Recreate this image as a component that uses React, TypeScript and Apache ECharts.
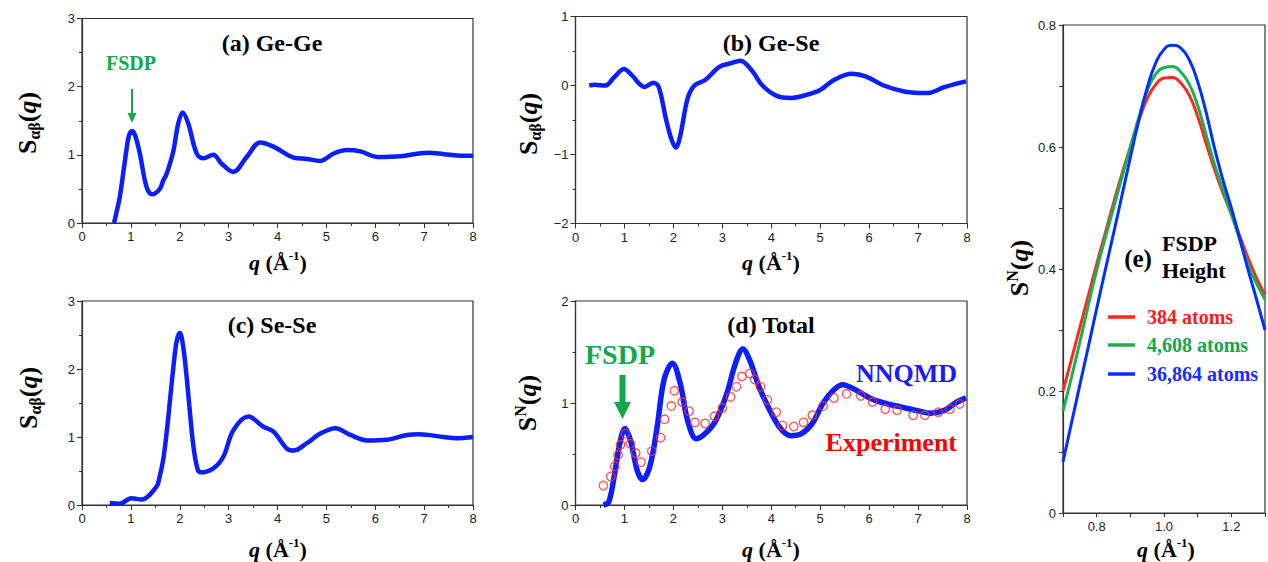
import React, { useEffect, useRef } from "react";
import * as echarts from "echarts";

// ---------------- data ----------------
// (a) Ge-Ge partial structure factor [q, S]
const geGe: [number, number][] = [
  [0.656, 0.0], [0.70, 0.14], [0.773, 0.38], [0.909, 1.07], [0.96, 1.28], [1.026, 1.35], [1.09, 1.28],
  [1.183, 1.02], [1.32, 0.53], [1.436, 0.42], [1.593, 0.50], [1.66, 0.62], [1.73, 0.72], [1.867, 1.05],
  [1.969, 1.46], [2.058, 1.62], [2.174, 1.46], [2.345, 1.02], [2.482, 0.95], [2.687, 1.0],
  [2.858, 0.87], [3.097, 0.75], [3.371, 0.97], [3.644, 1.18], [3.918, 1.12], [4.328, 0.96],
  [4.602, 0.94], [4.875, 0.91], [5.149, 1.02], [5.422, 1.07], [5.696, 1.05], [6.038, 0.97],
  [6.516, 0.98], [6.892, 1.02], [7.1, 1.03], [7.4, 1.01], [7.8, 0.985], [8.0, 0.985],
];

// (b) Ge-Se
const geSe: [number, number][] = [
  [0.28, 0.0], [0.39, 0.01], [0.61, 0.0], [0.79, 0.12], [0.99, 0.24], [1.15, 0.15], [1.41, -0.02],
  [1.59, 0.04], [1.70, -0.02], [1.85, -0.49], [1.96, -0.78], [2.05, -0.9], [2.14, -0.73],
  [2.29, -0.19], [2.43, 0.0], [2.65, 0.08], [2.94, 0.27], [3.16, 0.32], [3.37, 0.36], [3.60, 0.22],
  [3.82, 0.0], [4.11, -0.15], [4.40, -0.18], [4.70, -0.14], [4.99, -0.07], [5.28, 0.08],
  [5.65, 0.17], [5.94, 0.13], [6.30, 0.0], [6.74, -0.09], [7.18, -0.11], [7.55, -0.02], [7.98, 0.06],
];

// (c) Se-Se
const seSe: [number, number][] = [
  [0.568, 0.03], [0.773, 0.02], [1.012, 0.10], [1.217, 0.08], [1.525, 0.27], [1.59, 0.42],
  [1.66, 0.66], [1.73, 1.05], [1.80, 1.54], [1.87, 2.03], [1.94, 2.42], [2.003, 2.53], [2.07, 2.33],
  [2.14, 1.89], [2.21, 1.35], [2.28, 0.86], [2.36, 0.54], [2.43, 0.48], [2.687, 0.54], [2.892, 0.71],
  [3.097, 1.10], [3.405, 1.30], [3.713, 1.15], [3.918, 1.08], [4.191, 0.83], [4.328, 0.80],
  [4.602, 0.91], [4.875, 1.05], [5.183, 1.13], [5.491, 1.03], [5.832, 0.95], [6.243, 0.96],
  [6.653, 1.03], [6.892, 1.04], [7.4, 1.0], [7.65, 0.98], [8.0, 1.0],
];

// (d) Total, NNQMD
const totalNN: [number, number][] = [
  [0.57, 0.0], [0.68, 0.03], [0.79, 0.28], [0.90, 0.59], [1.01, 0.75], [1.12, 0.64], [1.26, 0.34],
  [1.37, 0.25], [1.52, 0.38], [1.67, 0.77], [1.81, 1.23], [1.98, 1.39], [2.14, 1.19], [2.29, 0.83],
  [2.47, 0.65], [2.65, 0.70], [2.87, 0.83], [3.09, 1.09], [3.27, 1.39], [3.42, 1.53], [3.56, 1.42],
  [3.75, 1.16], [3.97, 0.93], [4.19, 0.75], [4.40, 0.68], [4.62, 0.70], [4.84, 0.80], [5.06, 1.0],
  [5.28, 1.13], [5.46, 1.18], [5.72, 1.13], [6.01, 1.05], [6.30, 1.0], [6.67, 0.96], [7.03, 0.92],
  [7.25, 0.90], [7.55, 0.93], [7.76, 1.0], [7.98, 1.05],
];

// (d) Total, experiment
const totalExp: [number, number][] = [
  [0.57, 0.19], [0.72, 0.28], [0.80, 0.38], [0.87, 0.49], [0.92, 0.59], [1.02, 0.70], [1.12, 0.60],
  [1.23, 0.51], [1.34, 0.42], [1.56, 0.53], [1.74, 0.66], [1.82, 0.84], [1.96, 0.97], [2.02, 1.12],
  [2.18, 1.01], [2.32, 0.92], [2.44, 0.81], [2.65, 0.80], [2.84, 0.87], [3.00, 0.95], [3.17, 1.06],
  [3.29, 1.16], [3.40, 1.26], [3.56, 1.29], [3.66, 1.23], [3.78, 1.16], [3.92, 1.03], [4.10, 0.91],
  [4.23, 0.78], [4.46, 0.77], [4.66, 0.81], [4.84, 0.88], [5.06, 0.97], [5.28, 1.05], [5.54, 1.09],
  [5.83, 1.07], [6.07, 1.01], [6.33, 0.94], [6.57, 0.93], [6.90, 0.88], [7.14, 0.88], [7.41, 0.91],
  [7.65, 0.94], [7.85, 0.99],
];

// (e) FSDP height, three system sizes
const eQ = [0.70, 0.725, 0.75, 0.775, 0.80, 0.825, 0.85, 0.875, 0.90, 0.925, 0.95, 0.975, 1.0,
  1.025, 1.05, 1.075, 1.10, 1.125, 1.15, 1.175, 1.20, 1.225, 1.25, 1.275, 1.30];
const atoms384 = [0.200, 0.252, 0.304, 0.356, 0.408, 0.458, 0.508, 0.556, 0.600, 0.643, 0.679, 0.702,
  0.713, 0.714, 0.705, 0.685, 0.650, 0.606, 0.563, 0.525, 0.490, 0.454, 0.418, 0.385, 0.358];
const atoms4608 = [0.167, 0.222, 0.280, 0.340, 0.398, 0.450, 0.500, 0.550, 0.600, 0.648, 0.692, 0.719,
  0.730, 0.732, 0.723, 0.703, 0.668, 0.620, 0.572, 0.530, 0.490, 0.448, 0.407, 0.376, 0.350];
const atoms36864 = [0.084, 0.147, 0.210, 0.272, 0.335, 0.397, 0.458, 0.520, 0.583, 0.643, 0.697, 0.737,
  0.760, 0.767, 0.762, 0.743, 0.707, 0.657, 0.598, 0.546, 0.500, 0.450, 0.398, 0.350, 0.300];

const legendLabels = ["384 atoms", "4,608 atoms", "36,864 atoms"];
const panelTitles = ["(a) Ge-Ge", "(b) Ge-Se", "(c) Se-Se", "(d) Total"];

// ---------------- styles ----------------
const SERIF = '"Liberation Serif", "Times New Roman", serif';
const SANS = '"Liberation Sans", Arial, Helvetica, sans-serif';
const BLUE = "#0a1eff";
const GREEN = "#12a84c";
const RED = "#ff2a1e";
const AXIS = "#333";

const pairs = (xs: number[], ys: number[]) => xs.map((x, i) => [x, ys[i]]);

function xAxisOf(gridIndex: number, min: number, max: number, interval: number, extra: any = {}) {
  return {
    type: "value", gridIndex, min, max, interval,
    axisLine: { show: true, onZero: false, lineStyle: { color: AXIS, width: 1.2 } },
    axisTick: { show: true, length: 5, lineStyle: { color: AXIS, width: 1 } },
    minorTick: { show: true, splitNumber: 2, length: 3, lineStyle: { color: AXIS, width: 1 } },
    splitLine: { show: false },
    minorSplitLine: { show: false },
    axisLabel: { fontFamily: SANS, fontSize: 13, color: "#222", margin: 7 },
    ...extra,
  };
}
function yAxisOf(gridIndex: number, min: number, max: number, interval: number, extra: any = {}) {
  return {
    type: "value", gridIndex, min, max, interval,
    axisLine: { show: true, onZero: false, lineStyle: { color: AXIS, width: 1.2 } },
    axisTick: { show: true, length: 5, lineStyle: { color: AXIS, width: 1 } },
    minorTick: { show: true, splitNumber: 2, length: 3, lineStyle: { color: AXIS, width: 1 } },
    splitLine: { show: false },
    minorSplitLine: { show: false },
    axisLabel: {
      fontFamily: SANS, fontSize: 13, color: "#222", margin: 7,
      formatter: (v: number) => (v < 0 ? "\u2212" + Math.abs(v) : String(v)),
    },
    ...extra,
  };
}

const nameRich = {
  s: { fontFamily: SERIF, fontWeight: "bold", fontSize: 26, lineHeight: 30, color: "#000" },
  q: { fontFamily: SERIF, fontWeight: "bold", fontStyle: "italic", fontSize: 26, lineHeight: 30, color: "#000" },
  sub: { fontFamily: SERIF, fontWeight: "bold", fontSize: 16, lineHeight: 16, verticalAlign: "bottom", color: "#000" },
  sup: { fontFamily: SERIF, fontWeight: "bold", fontSize: 16, lineHeight: 16, verticalAlign: "top", color: "#000" },
};
const xRich = {
  t: { fontFamily: SERIF, fontWeight: "bold", fontSize: 22, lineHeight: 26, color: "#000" },
  q: { fontFamily: SERIF, fontWeight: "bold", fontStyle: "italic", fontSize: 22, lineHeight: 26, color: "#000" },
  sup: { fontFamily: SERIF, fontWeight: "bold", fontSize: 13, lineHeight: 14, verticalAlign: "top", color: "#000" },
};

function yName(x: number, y: number, kind: "ab" | "N") {
  const text = kind === "ab" ? "{s|S}{sub|αβ}{s|(}{q|q}{s|)}" : "{s|S}{sup|N}{s|(}{q|q}{s|)}";
  return {
    type: "text", x, y, rotation: Math.PI / 2,
    style: { text, rich: nameRich, align: "center", verticalAlign: "middle", fill: "#000" },
  };
}
function xName(x: number, y: number) {
  return {
    type: "text", x, y,
    style: { text: "{q|q}{t| (Å}{sup|-1}{t|)}", rich: xRich, align: "center", verticalAlign: "middle", fill: "#000" },
  };
}
function label(x: number, y: number, text: string, size: number, fill: string, align = "center") {
  return {
    type: "text", x, y,
    style: { text, fontFamily: SERIF, fontWeight: "bold", fontSize: size, fill, align, verticalAlign: "middle" },
  };
}

export default function App() {
  const ref = useRef<HTMLDivElement>(null);
  useEffect(() => {
    if (!ref.current) return;
    const chart = echarts.init(ref.current, null, { renderer: "svg" });
    const gridBase = { show: true, borderColor: AXIS, borderWidth: 1.2, backgroundColor: "transparent", containLabel: false };
    const eLabelX = (v: number) => {
      const s = v.toFixed(1);
      return ["0.8", "1.0", "1.2"].includes(s) ? s : "";
    };
    const eLabelY = (v: number) => {
      const r = Math.round(v * 10);
      if (r % 2 !== 0) return "";
      return r === 0 ? "0" : (r / 10).toFixed(1);
    };
    const option: any = {
      animation: false,
      backgroundColor: "#fff",
      grid: [
        { ...gridBase, left: 82, top: 18.5, width: 391, height: 204.5 },
        { ...gridBase, left: 575.5, top: 16.5, width: 391.5, height: 207 },
        { ...gridBase, left: 82, top: 301, width: 391, height: 204 },
        { ...gridBase, left: 575.5, top: 301, width: 391.5, height: 204 },
        { ...gridBase, left: 1063, top: 25, width: 203, height: 488 },
      ],
      xAxis: [
        xAxisOf(0, 0, 8, 1),
        xAxisOf(1, 0, 8, 1),
        xAxisOf(2, 0, 8, 1),
        xAxisOf(3, 0, 8, 1),
        xAxisOf(4, 0.7, 1.3, 0.1, {
          minorTick: { show: false },
          axisTick: { show: true, length: 4, lineStyle: { color: AXIS } },
          axisLabel: { fontFamily: SANS, fontSize: 13, color: "#222", margin: 7, formatter: eLabelX, showMinLabel: true, showMaxLabel: true },
        }),
      ],
      yAxis: [
        yAxisOf(0, 0, 3, 1),
        yAxisOf(1, -2, 1, 1),
        yAxisOf(2, 0, 3, 1),
        yAxisOf(3, 0, 2, 1),
        yAxisOf(4, 0, 0.8, 0.1, {
          minorTick: { show: false },
          axisTick: { show: true, length: 4, lineStyle: { color: AXIS } },
          axisLabel: { fontFamily: SANS, fontSize: 13, color: "#222", margin: 7, formatter: eLabelY },
        }),
      ],
      series: [
        { type: "line", xAxisIndex: 0, yAxisIndex: 0, data: geGe, showSymbol: false, smooth: 0.35, lineStyle: { color: BLUE, width: 4.5 } },
        { type: "line", xAxisIndex: 1, yAxisIndex: 1, data: geSe, showSymbol: false, smooth: 0.35, lineStyle: { color: BLUE, width: 4.5 } },
        { type: "line", xAxisIndex: 2, yAxisIndex: 2, data: seSe, showSymbol: false, smooth: 0.35, lineStyle: { color: BLUE, width: 4.5 } },
        { type: "line", name: "NNQMD", xAxisIndex: 3, yAxisIndex: 3, data: totalNN, showSymbol: false, smooth: 0.35, lineStyle: { color: BLUE, width: 5.5 } },
        {
          type: "scatter", name: "Experiment", xAxisIndex: 3, yAxisIndex: 3, data: totalExp, symbol: "circle", symbolSize: 8.5, z: 5,
          itemStyle: { color: "rgba(255,255,255,0)", borderColor: "#ff3030", borderWidth: 1.4 },
        },
        { type: "line", name: legendLabels[0], xAxisIndex: 4, yAxisIndex: 4, data: pairs(eQ, atoms384), showSymbol: false, smooth: 0.5, lineStyle: { color: RED, width: 3 } },
        { type: "line", name: legendLabels[1], xAxisIndex: 4, yAxisIndex: 4, data: pairs(eQ, atoms4608), showSymbol: false, smooth: 0.5, lineStyle: { color: "#1bb150", width: 3 } },
        { type: "line", name: legendLabels[2], xAxisIndex: 4, yAxisIndex: 4, data: pairs(eQ, atoms36864), showSymbol: false, smooth: 0.5, lineStyle: { color: "#0030ff", width: 3 } },
      ],
      graphic: [
        label(272, 43, panelTitles[0], 24, "#000"),
        label(771, 43, panelTitles[1], 24, "#000"),
        label(272, 325, panelTitles[2], 24, "#000"),
        label(771, 325, panelTitles[3], 24, "#000"),
        yName(27, 123, "ab"),
        yName(528, 124, "ab"),
        yName(28, 398, "ab"),
        yName(527, 403, "N"),
        yName(1019, 268, "N"),
        xName(278, 262),
        xName(771, 262),
        xName(278, 549),
        xName(771, 549),
        xName(1166, 549),
        // FSDP (a)
        label(131, 63, "FSDP", 20, GREEN),
        { type: "line", shape: { x1: 132, y1: 89, x2: 132, y2: 115 }, style: { stroke: GREEN, lineWidth: 2 } },
        { type: "polygon", shape: { points: [[127.5, 113], [136.5, 113], [132, 123]] }, style: { fill: GREEN } },
        // FSDP (d)
        label(620, 354, "FSDP", 28, GREEN),
        { type: "rect", shape: { x: 619.5, y: 375, width: 6, height: 29 }, style: { fill: GREEN } },
        { type: "polygon", shape: { points: [[614, 402], [631, 402], [622.5, 419]] }, style: { fill: GREEN } },
        label(957, 373, "NNQMD", 26, "#1a1aff", "right"),
        label(957, 442, "Experiment", 26, "#ff0000", "right"),
        // (e) annotation
        label(1138, 258, "(e)", 25, "#000"),
        label(1162, 243, "FSDP", 22, "#000", "left"),
        label(1162, 270, "Height", 22, "#000", "left"),
        { type: "line", shape: { x1: 1108, y1: 317, x2: 1135, y2: 317 }, style: { stroke: RED, lineWidth: 3.5 } },
        { type: "line", shape: { x1: 1108, y1: 345, x2: 1135, y2: 345 }, style: { stroke: "#1bb150", lineWidth: 3.5 } },
        { type: "line", shape: { x1: 1108, y1: 374, x2: 1135, y2: 374 }, style: { stroke: "#0030ff", lineWidth: 3.5 } },
        label(1147, 317, legendLabels[0], 20, "#ff1a1a", "left"),
        label(1147, 345, legendLabels[1], 20, "#12a84c", "left"),
        label(1147, 374, legendLabels[2], 20, "#1a2dff", "left"),
      ],
    };
    chart.setOption(option);
    return () => chart.dispose();
  }, []);
  return (
    <div
      ref={ref}
      style={{ position: "absolute", left: 0, top: 0, width: 1268, height: 562, background: "#fff" }}
    />
  );
}
